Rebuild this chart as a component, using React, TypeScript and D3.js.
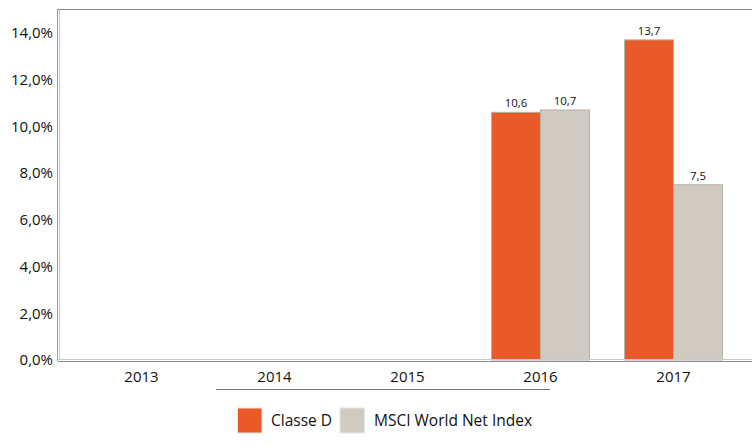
import React from "react";
import * as d3 from "d3";

const categories = ["2013", "2014", "2015", "2016", "2017"];
const seriesNames = ["Classe D", "MSCI World Net Index"];
const classeD: (number | null)[] = [null, null, null, 10.6, 13.7];
const msci: (number | null)[] = [null, null, null, 10.7, 7.5];
const yTicks = [0, 2, 4, 6, 8, 10, 12, 14];
const colors = ["#EA5A28", "#D1CAC0"];

const W = 752;
const H = 447;
const FONT = "'Open Sans', sans-serif";

export default function App() {
  const x0 = d3.scaleBand<string>().domain(categories).range([75, 740]).padding(0);
  const x1 = d3
    .scaleBand<string>()
    .domain(seriesNames)
    .range([0, x0.bandwidth()])
    .paddingInner(0)
    .paddingOuter(0.357);
  const y = d3.scaleLinear().domain([0, 15]).range([360, 9.5]);
  const data = [classeD, msci];
  const fmt = (v: number) => v.toFixed(1).replace(".", ",");

  return (
    <svg width={W} height={H} style={{ position: "absolute", left: 0, top: 0 }}>
      <rect x={0} y={0} width={W} height={H} fill="#fff" />
      {/* top border */}
      <line x1={58} x2={W} y1={9.5} y2={9.5} stroke="#8a8a8a" strokeWidth={1} />
      {/* left axis double line */}
      <line x1={57.5} x2={57.5} y1={9} y2={361} stroke="#9a9a9a" strokeWidth={1} />
      <line x1={59.5} x2={59.5} y1={10} y2={359} stroke="#c8c8c8" strokeWidth={1} />
      {yTicks.map((t) => (
        <text
          key={t}
          x={53}
          y={y(t)}
          dy="0.35em"
          textAnchor="end"
          fontFamily={FONT}
          fontSize={15}
          fill="#111"
        >
          {fmt(t) + "%"}
        </text>
      ))}
      {data.map((series, si) =>
        series.map((v, ci) => {
          if (v === null) return null;
          const bx = (x0(categories[ci]) as number) + (x1(seriesNames[si]) as number);
          const bw = x1.bandwidth();
          return (
            <g key={`${si}-${ci}`}>
              <rect
                x={bx}
                y={y(v)}
                width={bw}
                height={y(0) - y(v)}
                fill={colors[si]}
                stroke="#b5b0a8"
                strokeWidth={1}
              />
              <text
                x={bx + bw / 2}
                y={y(v) - 5}
                textAnchor="middle"
                fontFamily={FONT}
                fontSize={11.5}
                fill="#111"
              >
                {fmt(v)}
              </text>
            </g>
          );
        })
      )}
      {/* baseline double line */}
      <line x1={58} x2={W} y1={359.5} y2={359.5} stroke="#c8c8c8" strokeWidth={1} />
      <line x1={58} x2={W} y1={361.5} y2={361.5} stroke="#8a8a8a" strokeWidth={1} />
      {categories.map((c) => (
        <text
          key={c}
          x={(x0(c) as number) + x0.bandwidth() / 2}
          y={382}
          textAnchor="middle"
          fontFamily={FONT}
          fontSize={15}
          fill="#111"
        >
          {c}
        </text>
      ))}
      <line x1={216} x2={550} y1={389.5} y2={389.5} stroke="#777" strokeWidth={1} />
      {/* legend */}
      <rect x={237.5} y={408} width={24.5} height={25} fill={colors[0]} stroke="#e6e6e6" />
      <text x={271} y={426} fontFamily={FONT} fontSize={15.5} fill="#111">
        {seriesNames[0]}
      </text>
      <rect x={340} y={408} width={24.5} height={25} fill={colors[1]} stroke="#e6e6e6" />
      <text x={374} y={426} fontFamily={FONT} fontSize={15.5} fill="#111">
        {seriesNames[1]}
      </text>
    </svg>
  );
}
